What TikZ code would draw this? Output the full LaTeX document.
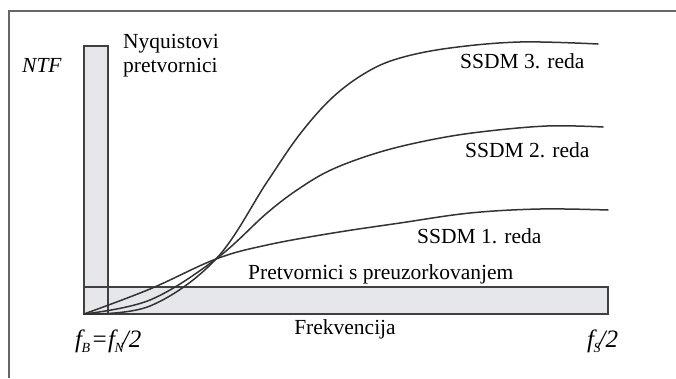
\documentclass[tikz,border=0pt]{standalone}
\usepackage{fontspec}
\setmainfont{LiberationSerif}[Extension=.ttf, UprightFont=*-Regular, ItalicFont=*-Italic, BoldFont=*-Bold, BoldItalicFont=*-BoldItalic]
\begin{document}
\begin{tikzpicture}[x=1pt,y=-1pt,
  lbl/.style={font=\fontsize{21.5}{24}\selectfont, inner sep=0pt},
  flbl/.style={font=\fontsize{25}{28}\selectfont\itshape, inner sep=0pt, anchor=base west},
  barbox/.style={draw=black!75, line width=1.4pt, fill=barfill},
  barline/.style={draw=black!75, line width=1.4pt},
  curve/.style={draw=black!80, line width=1.5pt, line cap=round},
  frameline/.style={draw=black!60, line width=2pt}]
\definecolor{barfill}{HTML}{E6E7EA}
\useasboundingbox (0,0) rectangle (676,378);
% frame
\draw[frameline] (9,378) -- (9,11) -- (676,11);
% bars
\draw[barbox] (84,287) rectangle (608,314);
\draw[barbox] (84,46) rectangle (108,314);
\draw[barline] (84,287) -- (108,287);
\draw[barline] (108,287) -- (108,314);
% curves
\draw[curve] plot[smooth, tension=0.6] coordinates {(84,314) (150,289) (216,259) (267,245) (333,233) (400,223) (470,213) (540,209) (608,210)};
\draw[curve] plot[smooth, tension=0.6] coordinates {(84,314) (150,300) (216,259) (267,213) (300,188) (333,169) (380,152) (430,140) (480,132) (547,126) (603,127)};
\draw[curve] plot[smooth, tension=0.6] coordinates {(84,314) (150,306) (216,259) (267,182) (300,134) (333,97) (367,72) (400,58) (450,48) (520,42) (598,44)};
% labels
\node[lbl, anchor=base west, font=\fontsize{21.5}{24}\selectfont\itshape] (ntf) at (22,72) {NTF};
\node[lbl, anchor=base west] (nyq1) at (123,48) {Nyquistovi};
\node[lbl, anchor=base west] (nyq2) at (123,72) {pretvornici};
\node[lbl, anchor=base west] (s3) at (460,68) {SSDM 3. reda};
\node[lbl, anchor=base west] (s2) at (465,157) {SSDM 2. reda};
\node[lbl, anchor=base west] (s1) at (417,243) {SSDM 1. reda};
\node[lbl, anchor=base west] (ov) at (248,279) {Pretvornici s preuzorkovanjem};
\node[lbl, anchor=base] (fr) at (345,334) {Frekvencija};
\node[flbl] (fb) at (75,347) {f\kern-0.5pt\raisebox{-5pt}{\fontsize{14}{15}\selectfont B}\kern1pt=f\kern-0.5pt\raisebox{-5pt}{\fontsize{14}{15}\selectfont N}\kern-2pt/2};
\node[flbl] (fs) at (587,347) {f\kern-0.5pt\raisebox{-5pt}{\fontsize{14}{15}\selectfont S}\kern-2pt/2};
\end{tikzpicture}
\end{document}
